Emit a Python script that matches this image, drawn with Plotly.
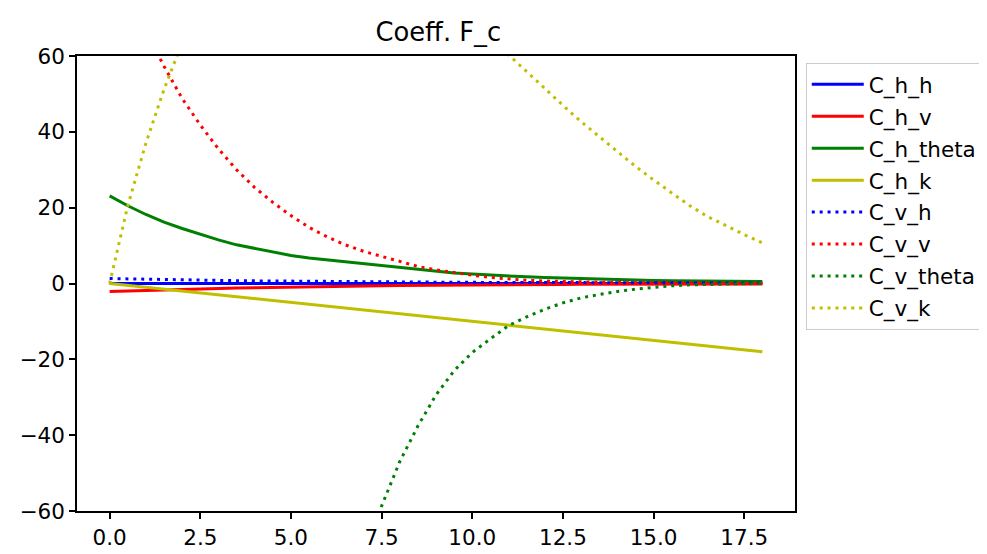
import plotly.graph_objects as go

x = [0.0, 0.5, 1.0, 1.5, 2.0, 2.5, 3.0, 3.5, 4.0, 4.5, 5.0, 5.5, 6.0, 6.5, 7.0, 7.5, 8.0, 8.5,
     9.0, 9.5, 10.0, 10.5, 11.0, 11.5, 12.0, 12.5, 13.0, 13.5, 14.0, 14.5, 15.0, 15.5, 16.0,
     16.5, 17.0, 17.5, 18.0]

C_h_h = [0.0, 0.0, 0.0, 0.0, 0.0, 0.0, 0.0, 0.0, 0.0, 0.0, 0.0, 0.0, 0.0, 0.0, 0.0, 0.0, 0.0, 0.0,
         0.0, 0.0, 0.0, 0.0, 0.0, 0.0, 0.0, 0.0, 0.0, 0.0, 0.0, 0.0, 0.0, 0.0, 0.0, 0.0, 0.0, 0.0, 0.0]
C_h_v = [-2.1, -1.95, -1.8, -1.65, -1.5, -1.4, -1.3, -1.2, -1.1, -1.0, -0.92, -0.84, -0.76, -0.7,
         -0.63, -0.57, -0.52, -0.47, -0.43, -0.39, -0.36, -0.33, -0.3, -0.28, -0.26, -0.24, -0.22,
         -0.2, -0.18, -0.17, -0.16, -0.15, -0.14, -0.13, -0.12, -0.11, -0.1]
C_h_theta = [23.1, 20.5, 18.2, 16.2, 14.5, 12.9, 11.5, 10.2, 9.2, 8.2, 7.4, 6.7, 6.2, 5.8, 5.3, 4.8,
             4.2, 3.7, 3.2, 2.8, 2.5, 2.2, 1.95, 1.75, 1.55, 1.4, 1.25, 1.1, 1.0, 0.9, 0.8, 0.75,
             0.7, 0.65, 0.6, 0.55, 0.5]
C_h_k = [0.0, -0.5, -1.0, -1.5, -2.0, -2.5, -3.0, -3.5, -4.0, -4.5, -5.0, -5.5, -6.0, -6.5, -7.0,
         -7.5, -8.0, -8.5, -9.0, -9.5, -10.0, -10.5, -11.0, -11.5, -12.0, -12.5, -13.0, -13.5,
         -14.0, -14.5, -15.0, -15.5, -16.0, -16.5, -17.0, -17.5, -18.0]
C_v_h = [1.3, 1.2, 1.1, 1.02, 0.95, 0.87, 0.8, 0.75, 0.7, 0.65, 0.6, 0.55, 0.5, 0.46, 0.42, 0.4,
         0.38, 0.36, 0.34, 0.32, 0.3, 0.28, 0.27, 0.25, 0.24, 0.22, 0.21, 0.2, 0.19, 0.18, 0.17,
         0.16, 0.15, 0.14, 0.13, 0.125, 0.12]
C_v_v = [92, 78.5, 66.5, 57.3, 48.8, 41.8, 35.5, 30.0, 25.3, 21.4, 17.9, 14.8, 12.3, 10.2, 8.5, 7.1,
         5.8, 4.5, 3.6, 2.8, 2.2, 1.6, 1.15, 0.85, 0.65, 0.5, 0.4, 0.3, 0.25, 0.2, 0.15, 0.12, 0.1,
         0.08, 0.07, 0.06, 0.05]
C_v_theta = [-1645, -1316, -1053, -843, -675, -540, -432, -346, -277, -222, -178, -142, -114, -91,
             -73, -58.7, -47, -37.6, -29.4, -23.0, -18.2, -14.6, -11.1, -8.8, -6.8, -5.1, -3.8,
             -2.9, -2.1, -1.5, -1.0, -0.6, -0.35, -0.2, -0.1, -0.05, 0.0]
C_v_k = [0, 20.5, 37, 51.2, 63.5, 74, 84, 93, 100, 106, 110, 112, 112, 110, 106, 101, 95, 89, 83,
         77, 71, 65.5, 60.3, 55.9, 51.4, 47.0, 42.7, 38.7, 34.8, 30.9, 27.3, 23.8, 20.5, 17.6,
         15.2, 12.9, 10.7]

x_ticks = [0.0, 2.5, 5.0, 7.5, 10.0, 12.5, 15.0, 17.5]
x_tick_labels = ["0.0", "2.5", "5.0", "7.5", "10.0", "12.5", "15.0", "17.5"]
y_ticks = [-60, -40, -20, 0, 20, 40, 60]

series = [
    ("C_h_h", C_h_h, "#0000ff", "solid"),
    ("C_h_v", C_h_v, "#ff0000", "solid"),
    ("C_h_theta", C_h_theta, "#008000", "solid"),
    ("C_h_k", C_h_k, "#bfbf00", "solid"),
    ("C_v_h", C_v_h, "#0000ff", "3px,4.9px"),
    ("C_v_v", C_v_v, "#ff0000", "3px,4.9px"),
    ("C_v_theta", C_v_theta, "#008000", "3px,4.9px"),
    ("C_v_k", C_v_k, "#bfbf00", "3px,4.9px"),
]

FS = 21.5

fig = go.Figure()
for name, ys, color, dash in series:
    fig.add_trace(go.Scatter(x=x, y=ys, mode="lines", name=name, legendgroup=name,
                             line=dict(color=color, width=3, dash=dash)))

axis_common = dict(showline=True, linecolor="#000000", linewidth=1.6, mirror=True,
                   ticks="outside", ticklen=6, tickwidth=1.6, tickcolor="#000000",
                   showgrid=False, zeroline=False,
                   tickfont=dict(family="DejaVu Sans", size=FS, color="#000000"))

fig.update_layout(
    width=987, height=554,
    margin=dict(l=67, r=194, t=48, b=35),
    paper_bgcolor="white", plot_bgcolor="white",
    font=dict(family="DejaVu Sans", size=FS, color="#000000"),
    title=dict(text="Coeff. F_c", x=0.436, xanchor="center", xref="container",
               y=1 - 24 / 554, yanchor="middle", yref="container",
               font=dict(family="DejaVu Sans", size=FS * 1.2, color="#000000")),
    xaxis=dict(range=[-0.9, 18.9], tickvals=x_ticks, ticktext=x_tick_labels, **axis_common),
    yaxis=dict(range=[-60, 60], tickvals=y_ticks, **axis_common),
    legend=dict(x=1.015, y=0.985, xanchor="left", yanchor="top",
                bordercolor="#cccccc", borderwidth=1, bgcolor="white",
                font=dict(family="DejaVu Sans", size=FS, color="#000000"),
                itemwidth=52, tracegroupgap=1),
    showlegend=True,
)

fig.write_html("out.html")
